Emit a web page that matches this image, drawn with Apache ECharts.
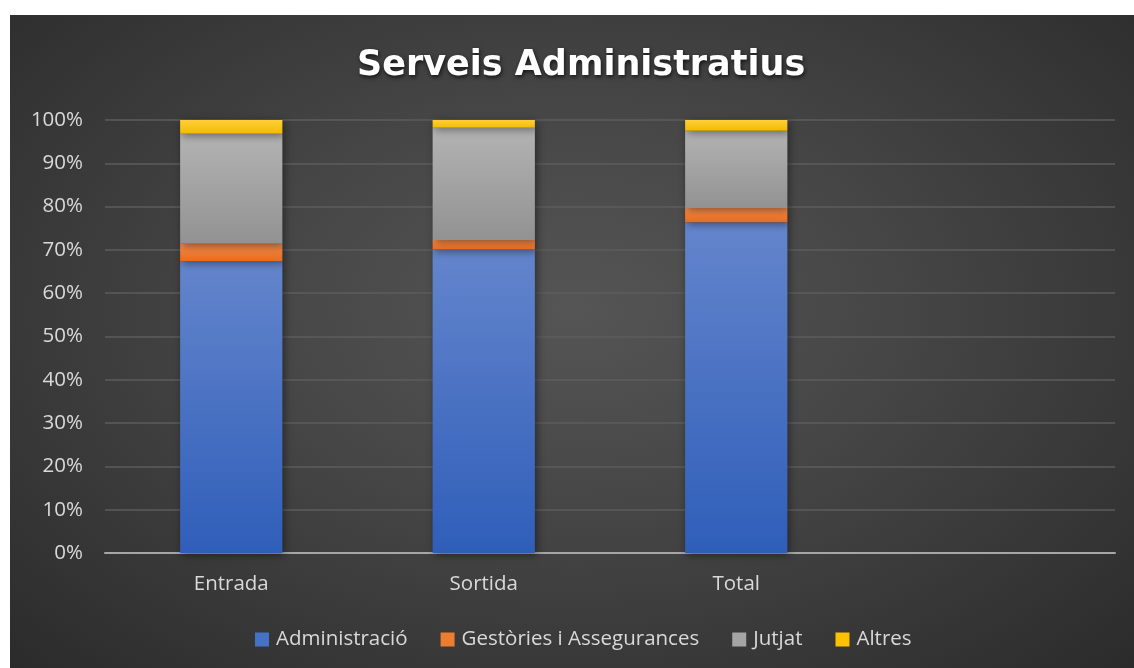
<!DOCTYPE html>
<html><head><meta charset="utf-8">
<script src="https://cdn.jsdelivr.net/npm/echarts@6/dist/echarts.min.js"></script>
<style>
html,body{margin:0;padding:0;background:#fff;}
#wrap{position:absolute;left:10px;top:15px;width:1124px;height:653px;
background:radial-gradient(ellipse at 50% 45%, #555555 0%, #464646 40%, #2b2b2b 100%);}
#c{width:1134px;height:668px;position:absolute;left:0;top:0;}
</style></head>
<body><div id="wrap"></div><div id="c"></div>
<script>
const categories = ["Entrada", "Sortida", "Total", ""];
const administracio = [67.4, 70.1, 76.4, null];
const gestories = [4.0, 2.2, 3.3, null];
const jutjat = [25.4, 25.9, 17.8, null];
const altres = [3.2, 1.8, 2.5, null];
const yTicks = [0, 10, 20, 30, 40, 50, 60, 70, 80, 90, 100];

const chart = echarts.init(document.getElementById('c'), null, {renderer:'canvas'});
function grad(a,b){return new echarts.graphic.LinearGradient(0,0,0,1,[{offset:0,color:a},{offset:1,color:b}]);}
const font = "'Open Sans', 'Noto Sans', sans-serif";
const shadow = {shadowColor:'rgba(0,0,0,0.45)', shadowBlur:8, shadowOffsetX:2, shadowOffsetY:2};
function s(name, data, c1, c2){
  return {name, type:'bar', stack:'t', data, barWidth:'40.5%',
    itemStyle:Object.assign({color:grad(c1,c2)}, shadow),
    emphasis:{disabled:true}};
}
chart.setOption({
  backgroundColor:'transparent',
  animation:false,
  title:{text:'Serveis Administratius', left:352, top:43,
    textStyle:{color:'#ffffff', fontSize:35, fontWeight:'bold', fontFamily:"'DejaVu Sans', sans-serif",
      textShadowColor:'rgba(0,0,0,0.7)', textShadowBlur:4, textShadowOffsetX:1, textShadowOffsetY:2}},
  grid:{left:105, right:19, top:120, bottom:115},
  legend:{bottom:13, left:250, itemWidth:14, itemHeight:14, itemGap:33, icon:'rect',
    textStyle:{color:'#d9d9d9', fontSize:20.5, fontFamily:font, padding:[0,0,0,2]},
    data:[
      {name:'Administració', itemStyle:{color:'#4472c4'}},
      {name:'Gestòries i Assegurances', itemStyle:{color:'#ed7d31'}},
      {name:'Jutjat', itemStyle:{color:'#a5a5a5'}},
      {name:'Altres', itemStyle:{color:'#ffc000'}}]},
  xAxis:{type:'category', data:categories,
    axisLine:{lineStyle:{color:'#a6a6a6', width:2}}, axisTick:{show:false},
    axisLabel:{color:'#d9d9d9', fontSize:20.5, fontFamily:font, margin:21}},
  yAxis:{type:'value', min:yTicks[0], max:yTicks[yTicks.length-1], interval:10,
    axisLabel:{color:'#d9d9d9', fontSize:20.5, fontFamily:font, formatter:'{value}%', margin:22},
    axisLine:{show:false}, axisTick:{show:false},
    splitLine:{lineStyle:{color:'#5c5c5c', width:1.5}}},
  series:[
    s('Administració', administracio, '#6485cc', '#2f5eb9'),
    s('Gestòries i Assegurances', gestories, '#f48c4e', '#e86c1c'),
    s('Jutjat', jutjat, '#b3b3b3', '#929292'),
    s('Altres', altres, '#ffcf3a', '#f2bb00')
  ]
});
</script></body></html>
